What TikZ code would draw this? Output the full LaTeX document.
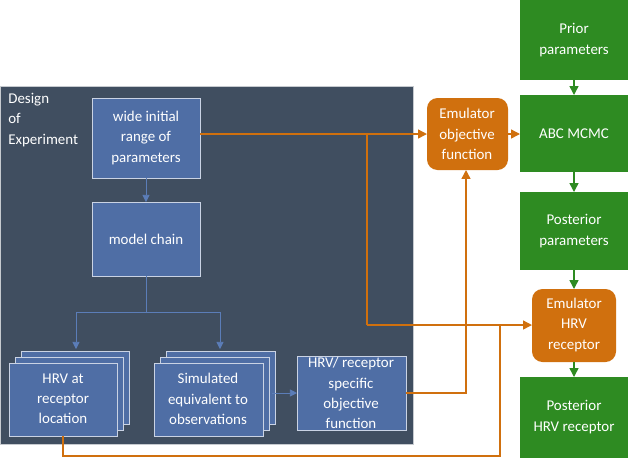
\documentclass[tikz,border=0pt]{standalone}
\usepackage{fontspec}
\setmainfont{Carlito}
\usetikzlibrary{arrows.meta}
\definecolor{panelc}{HTML}{404E60}
\definecolor{bluec}{HTML}{4F6EA5}
\definecolor{blueline}{HTML}{5B7DB8}
\definecolor{orangec}{HTML}{D0700E}
\definecolor{greenc}{HTML}{2E8B22}
\tikzset{
  bbox/.style={draw=white!70!bluec, fill=bluec},
  obox/.style={draw=none, fill=orangec, rounded corners=6pt},
  gbox/.style={draw=none, fill=greenc},
  lbl/.style={text=white, align=center, font=\fontsize{8.5}{11.5}\selectfont},
  barr/.style={draw=blueline, -{Triangle[length=4pt,width=4pt]}},
  oarr/.style={draw=orangec, thick, -{Triangle[length=5pt,width=5pt]}},
  oline/.style={draw=orangec, thick},
  garr/.style={draw=greenc, thick, -{Triangle[length=5pt,width=5pt]}},
}
\begin{document}
\begin{tikzpicture}[x=0.02cm,y=-0.02cm]
    \useasboundingbox (0,0) rectangle (628,458);

    % Design of experiment panel
    \fill[panelc, draw=white!70!panelc] (0,86) rectangle (413,444);
    \node[lbl, anchor=north west, align=left, inner sep=0pt] (doe) at (8,93) {Design\\of\\Experiment};

    % Blue boxes
    \draw[bbox] (92,98) rectangle (200,178);
    \node[lbl] (wide) at (146,138) {wide initial\\range of\\parameters};
    \draw[bbox] (92,202) rectangle (200,276);
    \node[lbl] (chain) at (146,239) {model chain};
    \coordinate (wideb) at (146,178);
    \coordinate (chaint) at (146,202);
    \coordinate (chainb) at (146,276);

    % Stacked boxes
    \foreach \d in {12,6,0} {
      \draw[bbox] (9+\d,363-\d) rectangle (117+\d,436-\d);
      \draw[bbox] (154+\d,363-\d) rectangle (263+\d,436-\d);
    }
    \node[lbl] (hrv) at (63,399) {HRV at\\receptor\\location};
    \node[lbl] (sim) at (208,399) {Simulated\\equivalent to\\observations};
    \draw[bbox] (297,356) rectangle (406,430);
    \node[lbl] (spec) at (351,393) {HRV/ receptor\\specific\\objective\\function};

    % Orange boxes
    \draw[obox] (427,98) rectangle (508,170);
    \node[lbl] (emuobj) at (467,134) {Emulator\\objective\\function};
    \draw[obox] (532,289) rectangle (616,362);
    \node[lbl] (emuhrv) at (574,325) {Emulator\\HRV\\receptor};

    % Green boxes
    \draw[gbox] (520,0) rectangle (628,80);
    \node[lbl] (prior) at (574,40) {Prior\\parameters};
    \draw[gbox] (520,95) rectangle (628,172);
    \node[lbl] (abc) at (574,134) {ABC MCMC};
    \draw[gbox] (520,192) rectangle (628,270);
    \node[lbl] (post) at (574,231) {Posterior\\parameters};
    \draw[gbox] (520,377) rectangle (628,458);
    \node[lbl] (posthrv) at (574,417) {Posterior\\HRV receptor};

    % Blue connectors
    \draw[barr] (wideb) -- (chaint);
    \draw[blueline] (chainb) -- (146,312) (76,312) -- (220,312);
    \draw[barr] (76,312) -- (76,349);
    \draw[barr] (220,312) -- (220,349);
    \draw[barr] (272,393) -- (297,393);

    % Orange connectors
    \draw[oarr] (200,134) -- (427,134);
    \draw[oline] (367,134) -- (367,325);
    \draw[oarr] (367,325) -- (532,325);
    \draw[oarr] (406,393) -- (466,393) -- (466,170);
    \draw[oline] (63,436) -- (63,456) -- (500,456) -- (500,325);
    \draw[oarr] (508,134) -- (520,134);

    % Green connectors
    \draw[garr] (574,80) -- (574,95);
    \draw[garr] (574,172) -- (574,192);
    \draw[garr] (574,270) -- (574,289);
    \draw[garr] (574,362) -- (574,377);
\end{tikzpicture}
\end{document}
